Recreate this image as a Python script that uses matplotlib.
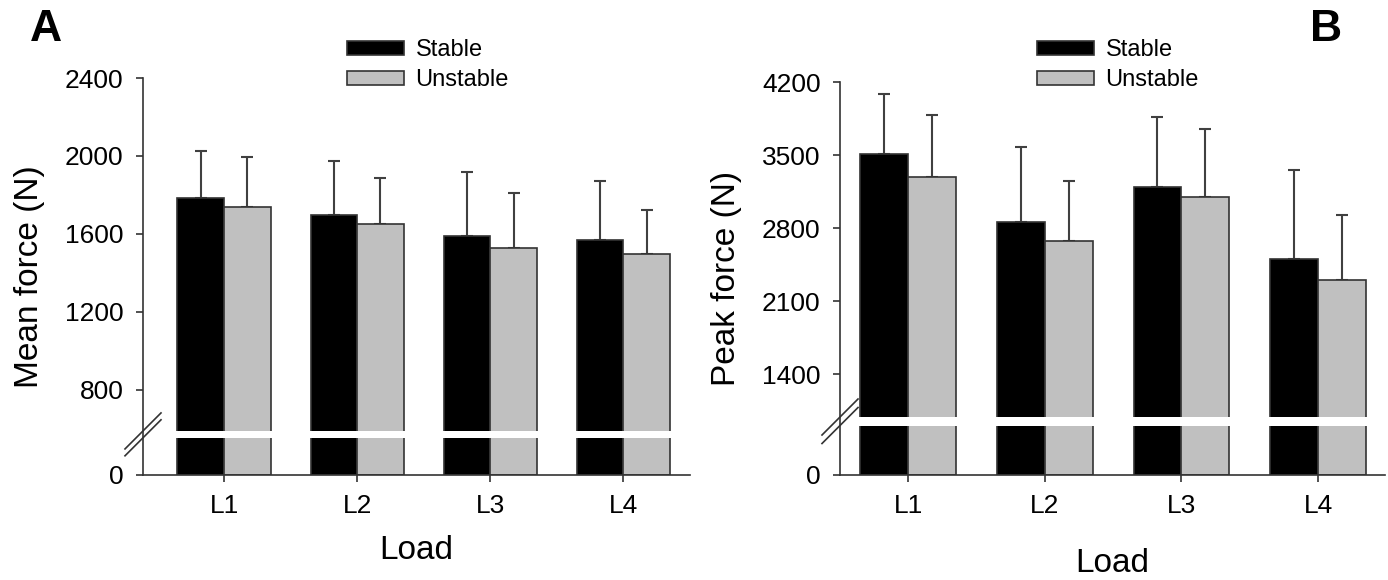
#!/usr/bin/env python3
# -*- coding: utf-8 -*-
import numpy as np
import matplotlib
matplotlib.use('Agg')
import matplotlib.pyplot as plt
from matplotlib.lines import Line2D

plt.rcParams['font.family'] = ['Liberation Sans', 'DejaVu Sans']

loads = ['L1', 'L2', 'L3', 'L4']
series = ['Stable', 'Unstable']

mean_stable = [1785, 1697, 1590, 1569]
mean_stable_sd = [241, 277, 328, 303]
mean_unstable = [1738, 1651, 1528, 1497]
mean_unstable_sd = [257, 236, 282, 226]

peak_stable = [3510, 2858, 3193, 2503]
peak_stable_sd = [575, 719, 672, 853]
peak_unstable = [3289, 2676, 3097, 2302]
peak_unstable_sd = [595, 575, 652, 623]

mean_ticks = [0, 800, 1200, 1600, 2000, 2400]
peak_ticks = [0, 1400, 2100, 2800, 3500, 4200]

EDGE = '#333333'
GREY = '#c0c0c0'


def break_scale(bc, lower_span):
    '''
    piecewise linear scale: values above bc keep their scale,
    the range 0..bc is squeezed into lower_span units
    '''
    k = lower_span / bc

    def fwd(v):
        v = np.asarray(v, dtype=float)
        return np.where(v >= bc, v, bc - (bc - v) * k)

    def inv(u):
        u = np.asarray(u, dtype=float)
        return np.where(u >= bc, u, bc - (bc - u) / k)
    return fwd, inv


def draw_panel(fig, rect, stable, stable_sd, unstable, unstable_sd, ticks,
               bc, lower_span, band, ylabel, xlim, legend_at, letter, letter_at,
               xlabel_y):
    ax = fig.add_axes(rect)
    ax.set_yscale('function', functions=break_scale(bc, lower_span))
    x = np.arange(len(loads))
    w = 0.35
    ekw = dict(ecolor='#404040', elinewidth=1.5, capsize=4.5, capthick=1.5)
    ax.bar(x - w / 2, stable, w, color='black', edgecolor=EDGE, linewidth=1.2,
           label=series[0], zorder=2)
    ax.bar(x + w / 2, unstable, w, color=GREY, edgecolor=EDGE, linewidth=1.2,
           label=series[1], zorder=2)
    ax.errorbar(x - w / 2, stable, yerr=[np.zeros(4), stable_sd], fmt='none',
                zorder=1.5, **ekw)
    ax.errorbar(x + w / 2, unstable, yerr=[np.zeros(4), unstable_sd], fmt='none',
                zorder=1.5, **ekw)
    # white gap across the bars
    ax.axhspan(band[0], band[1], xmin=0.008, xmax=1, color='white', lw=0, zorder=3)

    ax.set_ylim(0, ticks[-1])
    ax.set_xlim(*xlim)
    ax.set_yticks(ticks)
    ax.set_yticklabels([str(t) for t in ticks])
    ax.set_xticks(x)
    ax.set_xticklabels(loads)
    ax.yaxis.set_minor_locator(matplotlib.ticker.NullLocator())
    for s in ['top', 'right']:
        ax.spines[s].set_visible(False)
    for s in ['left', 'bottom']:
        ax.spines[s].set_color(EDGE)
        ax.spines[s].set_linewidth(1.2)
        ax.spines[s].set_zorder(4)
    ax.tick_params(axis='both', direction='out', length=5, width=1.2,
                   color=EDGE, labelsize=19, pad=9)
    ax.set_ylabel(ylabel, fontsize=24, labelpad=14)
    ax.set_xlabel('Load', fontsize=24)
    ax.xaxis.set_label_coords(0.5, xlabel_y)

    ax.legend(loc='upper left', bbox_to_anchor=legend_at,
              bbox_transform=fig.transFigure, frameon=False, fontsize=17,
              handlelength=2.4, handleheight=0.55, handletextpad=0.5,
              labelspacing=0.35, borderaxespad=0, borderpad=0)

    fig.text(letter_at[0], letter_at[1], letter, fontsize=32, fontweight='bold',
             va='top', ha='left')

    # break slashes on the left spine, at each edge of the gap
    to_fig = fig.transFigure.inverted()
    x0 = ax.transAxes.transform((0, 0))[0]
    for edge in band:
        y0 = ax.transData.transform((0, edge))[1]
        p1 = to_fig.transform((x0 - 18, y0 - 18))
        p2 = to_fig.transform((x0 + 18, y0 + 18))
        fig.add_artist(Line2D([p1[0], p2[0]], [p1[1], p2[1]], color=EDGE,
                              lw=1.2, transform=fig.transFigure))
    return ax


W, H = 1388, 580
fig = plt.figure(figsize=(W / 100, H / 100), dpi=100)

draw_panel(fig, [143 / W, 105 / H, (690 - 143) / W, 397 / H],
           mean_stable, mean_stable_sd, mean_unstable, mean_unstable_sd,
           mean_ticks, 564, 200, (538, 590), 'Mean force (N)',
           (-0.609, 3.5), (347 / W, 1 - 39 / H), 'A', (30 / W, 1 - 9 / H), -0.15)

draw_panel(fig, [840 / W, 105 / H, (1385 - 840) / W, 393 / H],
           peak_stable, peak_stable_sd, peak_unstable, peak_unstable_sd,
           peak_ticks, 935, 503, (882, 988), 'Peak force (N)',
           (-0.498, 3.49), (1037 / W, 1 - 39 / H), 'B', (1310 / W, 1 - 9 / H), -0.185)

fig.savefig('out.png', dpi=100)
